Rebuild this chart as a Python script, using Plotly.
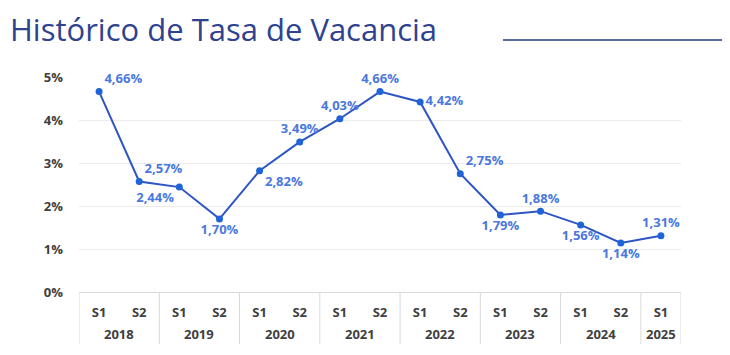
import plotly.graph_objects as go

years = ["2018", "2018", "2019", "2019", "2020", "2020", "2021", "2021",
         "2022", "2022", "2023", "2023", "2024", "2024", "2025"]
semesters = ["S1", "S2", "S1", "S2", "S1", "S2", "S1", "S2",
             "S1", "S2", "S1", "S2", "S1", "S2", "S1"]
vacancy = [4.66, 2.57, 2.44, 1.70, 2.82, 3.49, 4.03, 4.66,
           4.42, 2.75, 1.79, 1.88, 1.56, 1.14, 1.31]
label_pos = ["top right", "top right", "bottom left", "bottom center", "bottom right",
             "top center", "top center", "top center", "middle right", "top right",
             "bottom center", "top center", "bottom center", "bottom center", "top center"]
y_ticks = [0, 1, 2, 3, 4, 5]
y_tick_labels = [f"{v}%" for v in y_ticks]
title_text = "Histórico de Tasa de Vacancia"

# page body has an 8px margin: figure is drawn 8px right/down
OFF = 8
W, H = 730 - OFF, 355 - OFF
L, T = 79 - OFF, 77 - OFF
pw, ph = 602, 215
R, B = W - L - pw, H - T - ph

categories = [f"{y} {s}" for y, s in zip(years, semesters)]

# year groups -> centres and boundaries (category index space)
groups = []
for i, y in enumerate(years):
    if not groups or groups[-1][0] != y:
        groups.append([y, i, i])
    else:
        groups[-1][2] = i

fig = go.Figure()
fig.add_trace(go.Scatter(
    x=categories, y=vacancy,
    mode="lines+markers+text",
    line=dict(color="#2D55C4", width=2),
    marker=dict(color="#1E63D8", size=7),
    texttemplate="%{y:.2f}%",
    textposition=label_pos,
    textfont=dict(family="Open Sans", size=13, color="#4A78DE", weight="bold"),
    cliponaxis=False,
    hoverinfo="skip",
))

box_bottom = -(344 - 292) / ph
shapes = []
bounds = [g[1] - 0.5 for g in groups] + [groups[-1][2] + 0.5]
for b in bounds:
    shapes.append(dict(type="line", xref="x", yref="paper", x0=b, x1=b,
                       y0=0, y1=box_bottom, line=dict(color="#d9d9d9", width=1)))
shapes.append(dict(
    type="line", xref="paper", yref="paper",
    x0=(503 - OFF - L) / pw, x1=(W + 10 - L) / pw,
    y0=(H - B - (40 - OFF)) / ph, y1=(H - B - (40 - OFF)) / ph,
    line=dict(color="#5B6A9E", width=2),
))

annotations = [dict(
    text=title_text, xref="paper", yref="paper",
    x=(0 - L) / pw, y=(H - B - 21) / ph,
    xanchor="left", yanchor="middle", showarrow=False,
    font=dict(family="Open Sans", size=31, color="#2E4290"),
)]
for y, i0, i1 in groups:
    annotations.append(dict(
        text=y, xref="x", yref="paper", x=(i0 + i1) / 2, y=-42 / ph,
        xanchor="center", yanchor="middle", showarrow=False,
        font=dict(family="Open Sans", size=13, color="#404040", weight="bold"),
    ))

fig.update_layout(
    width=W, height=H,
    margin=dict(l=L, r=R, t=T, b=B, autoexpand=False),
    paper_bgcolor="white", plot_bgcolor="white",
    separators=",.",
    showlegend=False,
    xaxis=dict(
        type="category", automargin=False,
        range=[-0.5, len(categories) - 0.5],
        tickmode="array", tickvals=categories, ticktext=semesters,
        showgrid=False, zeroline=False,
        showline=True, linecolor="#d9d9d9", linewidth=1,
        tickfont=dict(family="Open Sans", size=13, color="#404040", weight="bold"),
        ticks="", ticklabelstandoff=8,
    ),
    yaxis=dict(
        range=[0, 5], tickmode="array", tickvals=y_ticks, ticktext=y_tick_labels,
        automargin=False,
        showgrid=True, gridcolor="#ebebeb", gridwidth=1,
        zeroline=False, showline=False,
        tickfont=dict(family="Open Sans", size=13, color="#404040", weight="bold"),
        ticklabelstandoff=15,
    ),
    annotations=annotations,
    shapes=shapes,
)

fig.write_html("out.html")
